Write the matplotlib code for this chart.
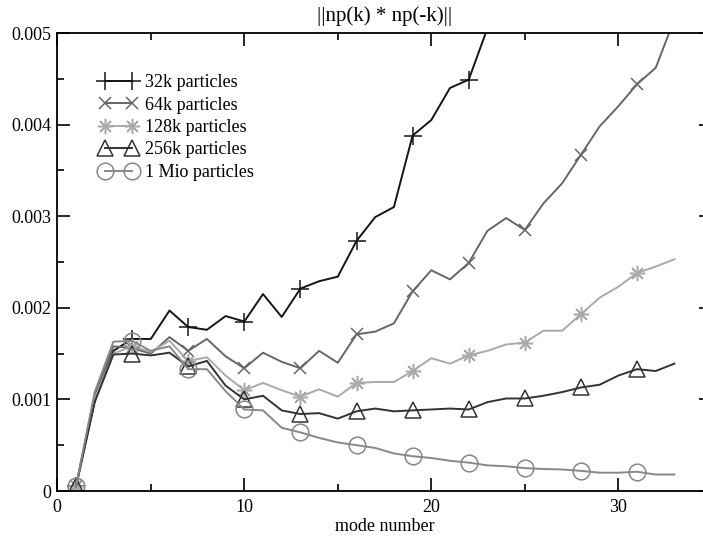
import numpy as np
import matplotlib
matplotlib.use("Agg")
import matplotlib.pyplot as plt
from matplotlib.ticker import MultipleLocator

plt.rcParams['font.family'] = ['Liberation Serif', 'DejaVu Serif']

# values in units of 1e-3, mode numbers start at 1
p32k = [0.05, 0.98, 1.53, 1.66, 1.66, 1.97, 1.79, 1.76, 1.91, 1.85, 2.15, 1.90,
        2.21, 2.29, 2.34, 2.73, 2.99, 3.10, 3.88, 4.05, 4.40, 4.49, 5.05]
p64k = [0.05, 1.05, 1.58, 1.56, 1.50, 1.68, 1.53, 1.66, 1.47, 1.34, 1.51, 1.41,
        1.34, 1.53, 1.40, 1.71, 1.74, 1.83, 2.18, 2.41, 2.31, 2.49, 2.84, 2.98,
        2.85, 3.14, 3.36, 3.67, 3.98, 4.20, 4.44, 4.62, 5.15]
p128k = [0.05, 1.00, 1.50, 1.58, 1.52, 1.64, 1.42, 1.46, 1.26, 1.10, 1.18, 1.10,
         1.03, 1.11, 1.03, 1.18, 1.19, 1.19, 1.31, 1.45, 1.39, 1.48, 1.53, 1.60,
         1.62, 1.75, 1.75, 1.93, 2.11, 2.23, 2.38, 2.45, 2.53]
p256k = [0.05, 0.97, 1.49, 1.50, 1.48, 1.51, 1.36, 1.42, 1.15, 1.00, 1.04, 0.88,
         0.84, 0.85, 0.79, 0.87, 0.90, 0.87, 0.88, 0.89, 0.90, 0.89, 0.97, 1.01,
         1.01, 1.04, 1.08, 1.13, 1.16, 1.26, 1.33, 1.31, 1.39]
p1mio = [0.05, 1.08, 1.63, 1.64, 1.53, 1.58, 1.33, 1.33, 1.09, 0.89, 0.88, 0.69,
         0.64, 0.58, 0.53, 0.50, 0.47, 0.41, 0.38, 0.36, 0.33, 0.31, 0.28, 0.27,
         0.25, 0.24, 0.235, 0.22, 0.20, 0.20, 0.21, 0.18, 0.18]

labels = ["32k particles", "64k particles", "128k particles", "256k particles", "1 Mio particles"]
series = [p32k, p64k, p128k, p256k, p1mio]
colors = ["#151515", "#666666", "#aaaaaa", "#333333", "#888888"]
markers = ["+", "x", (8, 2, 0), "^", "o"]
msizes = [13, 9, 11, 11, 12]

fig = plt.figure(figsize=(7.03, 5.36), dpi=100)
# the right spine sits just past the picture edge, as in the original crop
ax = fig.add_axes([57.3/703, 1-491/536, 35*18.7/703, (491-33)/536])

for s, lab, c, m, ms in zip(series, labels, colors, markers, msizes):
    k = np.arange(1, len(s)+1)
    ax.plot(k, np.array(s)*1e-3, color=c, lw=1.4, marker=m, ms=ms, mew=1.1,
            mfc='none', mec=c, markevery=3, label=lab)

ax.set_xlim(0, 35)
ax.set_ylim(0, 0.005)
ax.xaxis.set_major_locator(MultipleLocator(10))
ax.xaxis.set_minor_locator(MultipleLocator(5))
ax.yaxis.set_major_locator(MultipleLocator(0.001))
ax.yaxis.set_minor_locator(MultipleLocator(0.0005))
ax.yaxis.set_major_formatter(plt.FuncFormatter(lambda v, p: "0" if v == 0 else "%.3f" % v))
ax.tick_params(which='both', direction='in', top=True, right=True, labelsize=13, width=1.2)
ax.tick_params(which='major', length=9.5)
ax.tick_params(which='minor', length=5)
ax.tick_params(axis='x', pad=6)
ax.tick_params(axis='y', pad=4)
for sp in ax.spines.values():
    sp.set_linewidth(1.3)

ax.set_xlabel("mode number", fontsize=13, labelpad=1)
ax.set_title("||np(k) * np(-k)||", fontsize=15, pad=9)

ax.legend(loc='upper left', bbox_to_anchor=(0.065, 0.91), frameon=False, fontsize=13,
          numpoints=2, handlelength=2.1, handletextpad=0.4, labelspacing=0.3,
          borderpad=0, borderaxespad=0)

fig.savefig("out.png", dpi=100)
